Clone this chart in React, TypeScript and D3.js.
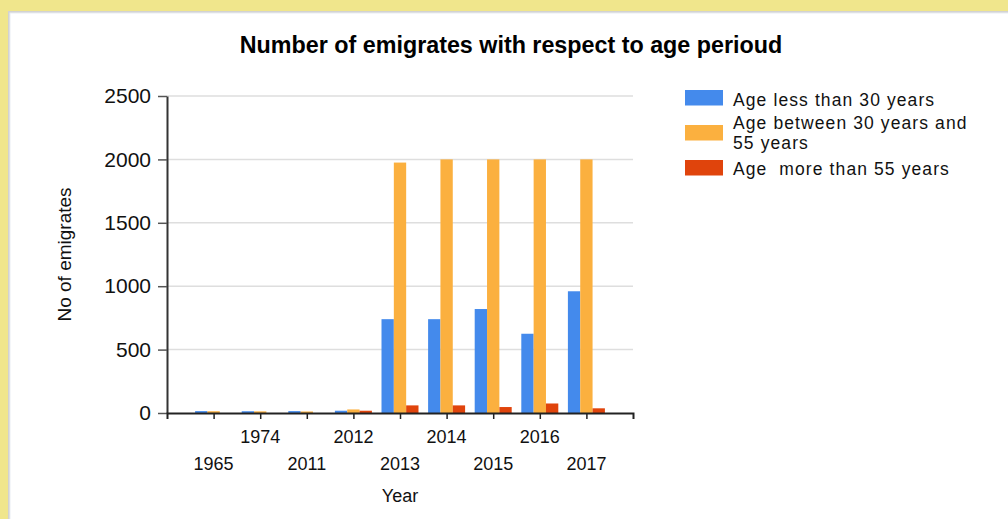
import React, { useEffect, useRef } from 'react';
import * as d3 from 'd3';

const years = ['1965', '1974', '2011', '2012', '2013', '2014', '2015', '2016', '2017'];
const under30 = [15, 14, 15, 18, 740, 740, 820, 625, 960];
const between30and55 = [14, 13, 12, 28, 1975, 2000, 2000, 2000, 2000];
const over55 = [0, 0, 0, 18, 60, 60, 47, 75, 37];
const yTicks = [0, 500, 1000, 1500, 2000, 2500];

const seriesNames = ['Age less than 30 years', 'Age between 30 years and 55 years', 'Age  more than 55 years'];
const legendLines = [['Age less than 30 years'], ['Age between 30 years and', '55 years'], ['Age  more than 55 years']];
const colors = ['#448aec', '#fbb03f', '#e0440c'];

const App: React.FC = () => {
  const svgRef = useRef<SVGSVGElement>(null);

  useEffect(() => {
    if (!svgRef.current) return;
    const svg = d3.select(svgRef.current);
    svg.selectAll('*').remove();

    const W = 1008;
    const H = 519;
    const font = '"Liberation Sans", Arial, sans-serif';

    // frame
    svg.append('rect').attr('width', W).attr('height', H).attr('fill', '#f0e68c');
    svg.append('rect').attr('x', 8).attr('y', 11).attr('width', W).attr('height', H).attr('fill', '#d2d2d2');
    svg.append('rect').attr('x', 9.5).attr('y', 12.5).attr('width', W).attr('height', H).attr('fill', '#e9edf3');
    svg.append('rect').attr('x', 10.5).attr('y', 13.5).attr('width', W).attr('height', H).attr('fill', '#ffffff');

    const left = 167;
    const right = 633;
    const top = 96;
    const bottom = 413;

    const x = d3.scalePoint<string>().domain(years).range([left, right]).padding(1);
    const y = d3.scaleLinear().domain([0, 2500]).range([bottom, top]);
    const groupW = 37;
    const x1 = d3.scaleBand<number>().domain([0, 1, 2]).range([0, groupW]);

    // gridlines
    svg.append('g')
      .selectAll('line')
      .data(yTicks.filter(d => d > 0))
      .enter()
      .append('line')
      .attr('x1', left)
      .attr('x2', right)
      .attr('y1', d => y(d))
      .attr('y2', d => y(d))
      .attr('stroke', '#dedede')
      .attr('stroke-width', 1.5);

    // bars
    const seriesData = [under30, between30and55, over55];
    seriesData.forEach((vals, si) => {
      svg.append('g')
        .selectAll('rect')
        .data(vals)
        .enter()
        .append('rect')
        .attr('x', (_, i) => (x(years[i]) as number) - groupW / 2 + (x1(si) as number))
        .attr('y', d => y(d))
        .attr('width', x1.bandwidth())
        .attr('height', d => bottom - y(d))
        .attr('fill', colors[si]);
    });

    // y axis
    const yAxis = d3.axisLeft(y)
      .tickValues(yTicks)
      .tickFormat(d3.format('d') as any)
      .tickSize(9)
      .tickSizeOuter(0)
      .tickPadding(7);
    const gy = svg.append('g').attr('transform', `translate(${left},0)`).call(yAxis);
    gy.select('.domain').attr('stroke', '#333').attr('stroke-width', 2);
    gy.selectAll('.tick line').attr('stroke', '#555').attr('stroke-width', 1.5);
    gy.selectAll('.tick text')
      .attr('fill', '#111')
      .style('font-family', font)
      .style('font-size', '21px');

    // x axis
    const xAxis = d3.axisBottom(x).tickSize(6).tickSizeOuter(6).tickFormat(() => '');
    const gx = svg.append('g').attr('transform', `translate(0,${bottom})`).call(xAxis);
    gx.select('.domain').attr('stroke', '#222').attr('stroke-width', 2);
    gx.selectAll('.tick line').attr('stroke', '#222').attr('stroke-width', 1.5);

    // staggered x labels
    svg.append('g')
      .selectAll('text')
      .data(years)
      .enter()
      .append('text')
      .attr('x', d => x(d) as number)
      .attr('y', (_, i) => (i % 2 === 0 ? 470 : 443))
      .attr('text-anchor', 'middle')
      .attr('fill', '#111')
      .style('font-family', font)
      .style('font-size', '18px')
      .text(d => d);

    // titles
    svg.append('text')
      .attr('x', 511)
      .attr('y', 53)
      .attr('text-anchor', 'middle')
      .attr('fill', '#000')
      .style('font-family', font)
      .style('font-weight', 'bold')
      .style('font-size', '23.3px')
      .text('Number of emigrates with respect to age perioud');

    svg.append('text')
      .attr('x', (left + right) / 2)
      .attr('y', 502)
      .attr('text-anchor', 'middle')
      .attr('fill', '#111')
      .style('font-family', font)
      .style('font-size', '18px')
      .text('Year');

    svg.append('text')
      .attr('transform', `translate(71,${(top + bottom) / 2}) rotate(-90)`)
      .attr('text-anchor', 'middle')
      .attr('fill', '#111')
      .style('font-family', font)
      .style('font-size', '19px')
      .text('No of emigrates');

    // legend
    const legendTops = [90, 125, 160];
    const legendBase = [[106], [129, 149], [175]];
    const legend = svg.append('g');
    seriesNames.forEach((name, i) => {
      legend.append('rect')
        .attr('x', 685)
        .attr('y', legendTops[i])
        .attr('width', 38)
        .attr('height', 15.5)
        .attr('fill', colors[i]);
      legendLines[i].forEach((line, j) => {
        legend.append('text')
          .attr('x', 733)
          .attr('y', legendBase[i][j])
          .attr('fill', '#111')
          .style('font-family', font)
          .style('font-size', '17.5px')
          .style('letter-spacing', '1.1px')
          .style('white-space', 'pre')
          .text(line);
      });
    });
  }, []);

  return (
    <svg
      ref={svgRef}
      width={1008}
      height={519}
      style={{ position: 'absolute', left: 0, top: 0, display: 'block' }}
    />
  );
};

export default App;
